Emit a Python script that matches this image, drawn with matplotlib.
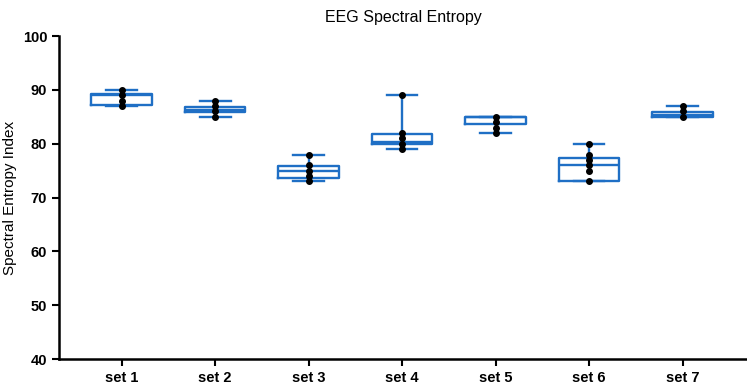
import numpy as np
import matplotlib
matplotlib.use("Agg")
import matplotlib.pyplot as plt

plt.rcParams['font.family'] = ['Liberation Sans', 'DejaVu Sans']

# values
labels = ["set 1", "set 2", "set 3", "set 4", "set 5", "set 6", "set 7"]
points = [
    [87, 88, 89, 90],
    [85, 86, 87, 88],
    [73, 74, 75, 76, 78],
    [79, 80, 81, 82, 89],
    [82, 83, 84, 85],
    [73, 75, 76, 77, 78, 80],
    [85, 86, 87],
]
whis_lo = [87, 85, 73, 79, 82, 73, 85]
q1 = [87.2, 85.95, 73.7, 79.9, 83.65, 73.1, 84.95]
med = [89.0, 86.3, 75.0, 80.3, 85.0, 76.0, 85.3]
q3 = [89.3, 86.85, 75.9, 81.85, 85.05, 77.4, 85.95]
whis_hi = [90, 88, 78, 89, 85, 80, 87]

blue = "#1f6fc5"

fig = plt.figure(figsize=(7.47, 3.84), dpi=100)
ax = fig.add_axes([0.079, 0.065, 0.921, 0.841])

stats = []
for i in range(len(labels)):
    stats.append(dict(whislo=whis_lo[i], q1=q1[i], med=med[i], q3=q3[i],
                      whishi=whis_hi[i], fliers=[], label=labels[i]))

line = dict(color=blue, linewidth=1.7)
ax.bxp(stats, positions=np.arange(len(labels)), widths=0.65,
       boxprops=line, medianprops=line, whiskerprops=line,
       capprops=line, capwidths=0.33, showfliers=False)

for i, vals in enumerate(points):
    ax.scatter([i] * len(vals), vals, s=16, color="black", zorder=5)

ax.set_xlim(-0.67, 6.69)
ax.set_ylim(40, 100)
ax.set_yticks([40, 50, 60, 70, 80, 90, 100])
ax.set_xticks(np.arange(len(labels)))
ax.set_xticklabels(labels)

for s in ["top", "right"]:
    ax.spines[s].set_visible(False)
for s in ["left", "bottom"]:
    ax.spines[s].set_linewidth(1.8)
ax.tick_params(width=1.5, length=5, labelsize=10.5)
for t in ax.get_xticklabels() + ax.get_yticklabels():
    t.set_fontweight("bold")

ax.set_ylabel("Spectral Entropy Index", fontsize=11)
ax.set_title("EEG Spectral Entropy", fontsize=11.5, pad=10)

fig.savefig("out.png", dpi=100)
